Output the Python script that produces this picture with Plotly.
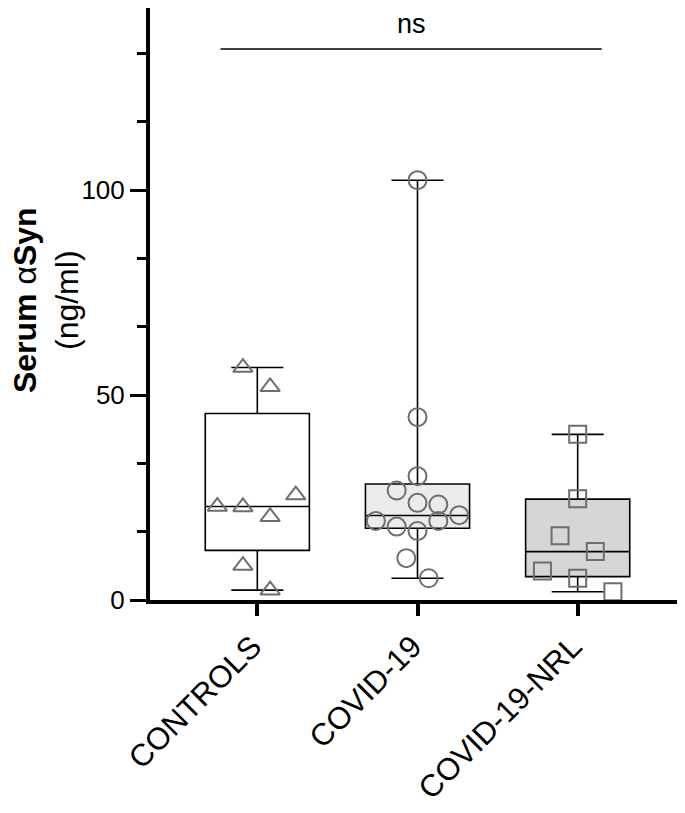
import plotly.graph_objects as go

# groups and read-off values (ng/ml)
groups = ["CONTROLS", "COVID-19", "COVID-19-NRL"]

controls = [56.7, 52.0, 22.8, 22.7, 20.3, 25.6, 8.4, 2.4]
controls_jit = [-0.09, 0.08, -0.25, -0.09, 0.08, 0.24, -0.09, 0.08]

covid = [102.4, 44.6, 30.2, 26.7, 23.7, 23.3, 20.7, 19.3, 17.9, 19.3, 16.8, 10.2, 5.3]
covid_jit = [0.0, 0.0, 0.0, -0.13, 0.0, 0.13, 0.26, -0.26, -0.13, 0.13, 0.0, -0.07, 0.07]

nrl = [40.4, 24.7, 15.7, 11.8, 7.1, 5.3, 2.0]
nrl_jit = [0.0, 0.0, -0.11, 0.11, -0.22, 0.0, 0.22]

# box stats: q1, median, q3, min, max
q1 = [12.1, 17.5, 5.7]
med = [22.8, 20.6, 11.8]
q3 = [45.5, 28.3, 24.6]
lo = [2.4, 5.3, 2.0]
hi = [56.7, 102.4, 40.4]

fills = ["#ffffff", "#ebebeb", "#d6d6d6"]
symbols = ["triangle-up-open", "circle-open", "square-open"]
msizes = [17, 18, 17]
pts = [controls, covid, nrl]
jits = [controls_jit, covid_jit, nrl_jit]

FONT = "Arial, Liberation Sans, sans-serif"

fig = go.Figure()
for i in range(3):
    fig.add_trace(go.Box(x=[i], q1=[q1[i]], median=[med[i]], q3=[q3[i]],
                         lowerfence=[lo[i]], upperfence=[hi[i]],
                         width=0.65, whiskerwidth=0.5, fillcolor=fills[i],
                         line=dict(color="black", width=1.6), boxpoints=False,
                         showlegend=False, hoverinfo="skip"))
for i in range(3):
    fig.add_trace(go.Scatter(x=[i + j for j in jits[i]], y=pts[i], mode="markers",
                             marker=dict(symbol=symbols[i], size=msizes[i], color="#6e6e6e",
                                         line=dict(width=2, color="#6e6e6e")),
                             showlegend=False))

# significance bar
fig.add_shape(type="line", xref="x", yref="y", x0=-0.23, x1=2.15, y0=134.4, y1=134.4,
              line=dict(color="black", width=1.6))
fig.add_annotation(x=0.96, y=134.4, xref="x", yref="y", text="ns", showarrow=False,
                   yanchor="bottom", yshift=8, font=dict(size=27, color="black", family=FONT))

fig.add_annotation(x=-0.194, y=0.507, xref="paper", yref="paper", textangle=-90,
                   xanchor="center", yanchor="middle",
                   text="<b>Serum </b>α<b>Syn</b><br>(ng/ml)", showarrow=False,
                   font=dict(size=32, color="black", family=FONT))

# page has an 8px body margin, so size/margins are shifted to compensate
fig.update_layout(
    width=677, height=805, plot_bgcolor="white", paper_bgcolor="white",
    margin=dict(l=142, r=0, t=0, b=213),
    font=dict(family=FONT, color="black"),
)
fig.update_xaxes(range=[-0.67, 2.67], tickvals=[0, 1, 2], ticktext=groups, tickangle=-45,
                 showline=True, linecolor="black", linewidth=4, ticks="outside",
                 ticklen=12, tickwidth=4, tickcolor="black", showgrid=False, zeroline=False,
                 tickfont=dict(size=31), automargin=False, ticklabelshift=-5)
fig.update_yaxes(range=[0, 144.4], tickvals=[0, 50, 100], showline=True, linecolor="black",
                 linewidth=4, ticks="outside", ticklen=16, tickwidth=3, tickcolor="black",
                 showgrid=False, zeroline=False, tickfont=dict(size=26), automargin=False,
                 minor=dict(dtick=50 / 3, tick0=0, ticks="outside", ticklen=9, tickwidth=3,
                            tickcolor="black", showgrid=False))

fig.write_html("out.html")
